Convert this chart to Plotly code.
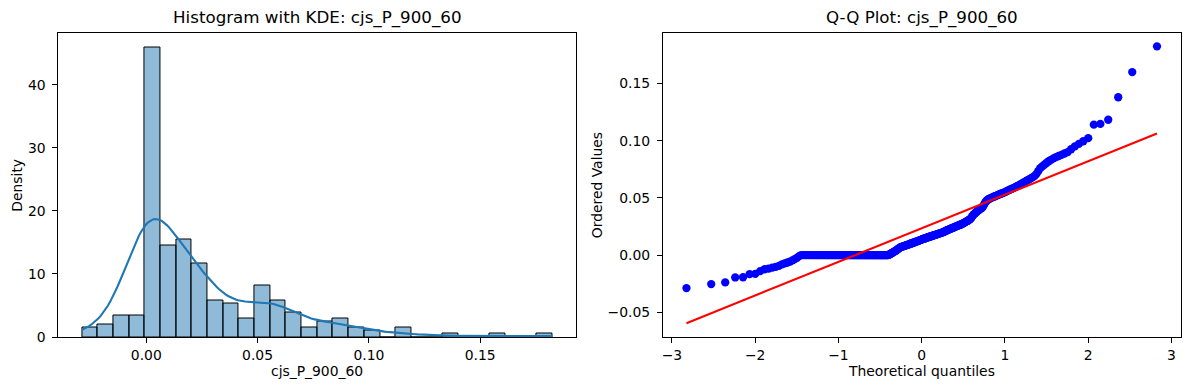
import math
import numpy as np
import plotly.graph_objects as go

# ---------------- data (sorted sample values) ----------------
var_name = "cjs_P_900_60"

neg_values = [-0.0289, -0.0254, -0.0239,
              -0.0196, -0.0194, -0.0167, -0.0165,
              -0.0140, -0.0124, -0.0118, -0.0110, -0.0104, -0.0095, -0.0082,
              -0.0072, -0.0065, -0.0057, -0.0046, -0.0035, -0.0024, -0.0010]
zero_count = 80
small_pos_values = [0.0003, 0.0006, 0.0010, 0.0014, 0.0018, 0.0022, 0.0026, 0.0030,
                    0.0034, 0.0038, 0.0042, 0.0047, 0.0052, 0.0057, 0.0061]
low_values = [0.0067, 0.0069, 0.0071, 0.0074, 0.0076, 0.0078, 0.0080, 0.0083, 0.0085, 0.0087,
              0.0089, 0.0092, 0.0094, 0.0096, 0.0099, 0.0101, 0.0103, 0.0105, 0.0108, 0.0110,
              0.0112, 0.0115, 0.0117, 0.0119, 0.0121, 0.0124, 0.0126, 0.0128, 0.0130, 0.0132,
              0.0137, 0.0139, 0.0141, 0.0143, 0.0145, 0.0147, 0.0149, 0.0152, 0.0154, 0.0156,
              0.0158, 0.0160, 0.0162, 0.0164, 0.0166, 0.0168, 0.0171, 0.0173, 0.0175, 0.0177,
              0.0179, 0.0181, 0.0183, 0.0186, 0.0188, 0.0190, 0.0192, 0.0194, 0.0196, 0.0198,
              0.0200, 0.0203,
              0.0208, 0.0211, 0.0214, 0.0217, 0.0219, 0.0222, 0.0225, 0.0228, 0.0231, 0.0234,
              0.0236, 0.0239, 0.0242, 0.0245, 0.0248, 0.0251, 0.0253, 0.0256, 0.0259, 0.0262,
              0.0265, 0.0267, 0.0270, 0.0273]
mid_values = [0.0278, 0.0282, 0.0286, 0.0290, 0.0294, 0.0298, 0.0302, 0.0307, 0.0312, 0.0318,
              0.0328, 0.0340,
              0.0350, 0.0358, 0.0365, 0.0372, 0.0379, 0.0386, 0.0392, 0.0398, 0.0404, 0.0409, 0.0414,
              0.0425, 0.0440, 0.0455, 0.0468, 0.0477, 0.0484,
              0.0490, 0.0494, 0.0498, 0.0502, 0.0506, 0.0510, 0.0514, 0.0518, 0.0522, 0.0526,
              0.0530, 0.0534, 0.0538, 0.0542, 0.0546, 0.0550, 0.0554,
              0.0561, 0.0566, 0.0571, 0.0576, 0.0581, 0.0586, 0.0592, 0.0598, 0.0604, 0.0610,
              0.0617, 0.0624,
              0.0632, 0.0640, 0.0648, 0.0656, 0.0664, 0.0673, 0.0682, 0.0692]
high_values = [0.0710, 0.0735, 0.0760,
               0.0775, 0.0790, 0.0805, 0.0820, 0.0833,
               0.0845, 0.0856, 0.0866, 0.0876, 0.0888, 0.0900,
               0.0925, 0.0950, 0.0972,
               0.0995, 0.1022,
               0.1140, 0.1147, 0.1183,
               0.1380, 0.1600, 0.1825]

n_bins = 30

data = np.array(neg_values + [0.0] * zero_count + small_pos_values + low_values
                + mid_values + high_values)
data.sort()
n = len(data)

# ---------------- histogram (density) ----------------
counts, edges = np.histogram(data, bins=n_bins)
width = edges[1] - edges[0]
density = counts / (n * width)
centers = 0.5 * (edges[:-1] + edges[1:])

# ---------------- KDE (gaussian, Scott bandwidth, clipped to data range) ----------------
bw = n ** (-1 / 5) * data.std(ddof=1)
grid = np.linspace(data.min(), data.max(), 200)
kde = np.exp(-0.5 * ((grid[:, None] - data[None, :]) / bw) ** 2).sum(axis=1) / (n * bw * math.sqrt(2 * math.pi))

# ---------------- Q-Q (Filliben order statistic medians) ----------------
m = np.empty(n)
m[-1] = 0.5 ** (1.0 / n)
m[0] = 1 - m[-1]
idx = np.arange(2, n)
m[1:-1] = (idx - 0.3175) / (n + 0.365)
erf_v = np.vectorize(math.erf)
lo = np.full(n, -10.0)
hi = np.full(n, 10.0)
for _ in range(80):
    mid = 0.5 * (lo + hi)
    c = 0.5 * (1 + erf_v(mid / math.sqrt(2)))
    below = c < m
    lo = np.where(below, mid, lo)
    hi = np.where(below, hi, mid)
osm = 0.5 * (lo + hi)
osr = data
slope, intercept = np.polyfit(osm, osr, 1)
line_x = np.array([osm.min(), osm.max()])
line_y = slope * line_x + intercept

# ---------------- figure ----------------
W, H = 1189, 390
H_EFF = 382  # calibrated vertical extent of the rendered paper
FONT = "DejaVu Sans"
TICK = 13.9

def px_x(p):
    return p / W

def px_y(p):
    return 1 - p / H_EFF

fig = go.Figure()
fig.add_trace(go.Bar(x=centers, y=density, width=width,
                     marker=dict(color="rgba(31,119,180,0.5)",
                                 line=dict(color="black", width=1)),
                     xaxis="x", yaxis="y", showlegend=False))
fig.add_trace(go.Scatter(x=grid, y=kde, mode="lines",
                         line=dict(color="#1f77b4", width=2.1),
                         xaxis="x", yaxis="y", showlegend=False))
fig.add_trace(go.Scatter(x=osm, y=osr, mode="markers",
                         marker=dict(color="#0000ff", size=8.3, line=dict(width=0)),
                         xaxis="x2", yaxis="y2", showlegend=False))
fig.add_trace(go.Scatter(x=line_x, y=line_y, mode="lines",
                         line=dict(color="#ff0000", width=2.1),
                         xaxis="x2", yaxis="y2", showlegend=False))

def pad(a, b, f=0.05):
    s = b - a
    return [a - f * s, b + f * s]

x1r = pad(data.min(), data.max())
y1r = [0, density.max() * 1.05]
x2r = pad(osm.min(), osm.max())
y2r = pad(min(osr.min(), line_y.min()), max(osr.max(), line_y.max()))

L1, R1 = 57.5, 575.5
L2, R2 = 662.5, 1180.5
T, B = 32.5, 337.0

axis_common = dict(showline=True, linecolor="black", linewidth=1.1, mirror=True,
                   ticks="outside", ticklen=5, tickwidth=1.1, tickcolor="black",
                   showgrid=False, zeroline=False,
                   tickfont=dict(family=FONT, size=TICK, color="black"))

fig.update_layout(
    width=W, height=H,
    margin=dict(l=0, r=0, t=0, b=0),
    paper_bgcolor="white", plot_bgcolor="white",
    bargap=0,
    font=dict(family=FONT, color="black"),
    hovermode=False,
    xaxis=dict(domain=[px_x(L1), px_x(R1)], range=x1r, anchor="y",
               tickmode="linear", tick0=0, dtick=0.05, tickformat=".2f", **axis_common),
    yaxis=dict(domain=[px_y(B), px_y(T)], range=y1r, anchor="x", ticklabelstandoff=4,
               tickmode="linear", tick0=0, dtick=10, **axis_common),
    xaxis2=dict(domain=[px_x(L2), px_x(R2)], range=x2r, anchor="y2",
                tickmode="linear", tick0=0, dtick=1, **axis_common),
    yaxis2=dict(domain=[px_y(B), px_y(T)], range=y2r, anchor="x2", ticklabelstandoff=4,
                tickmode="linear", tick0=0, dtick=0.05, tickformat=".2f", **axis_common),
)

ann = [
    dict(text=f"Histogram with KDE: {var_name}", x=px_x((L1 + R1) / 2), y=px_y(18),
         size=16.7),
    dict(text=f"Q-Q Plot: {var_name}", x=px_x((L2 + R2) / 2), y=px_y(18), size=16.7),
    dict(text=var_name, x=px_x((L1 + R1) / 2), y=px_y(371), size=TICK),
    dict(text="Theoretical quantiles", x=px_x((L2 + R2) / 2), y=px_y(371), size=TICK),
    dict(text="Density", x=px_x(16), y=px_y((T + B) / 2), size=TICK, angle=-90),
    dict(text="Ordered Values", x=px_x(596), y=px_y((T + B) / 2), size=TICK, angle=-90),
]
for a in ann:
    fig.add_annotation(text=a["text"], x=a["x"], y=a["y"], xref="paper", yref="paper",
                       xanchor="center", yanchor="middle", showarrow=False,
                       textangle=a.get("angle", 0),
                       font=dict(family=FONT, size=a["size"], color="black"))

fig.write_html("out.html",
               config={"displayModeBar": False, "responsive": False},
               post_script="document.body.style.margin='0';document.body.style.padding='0';")
